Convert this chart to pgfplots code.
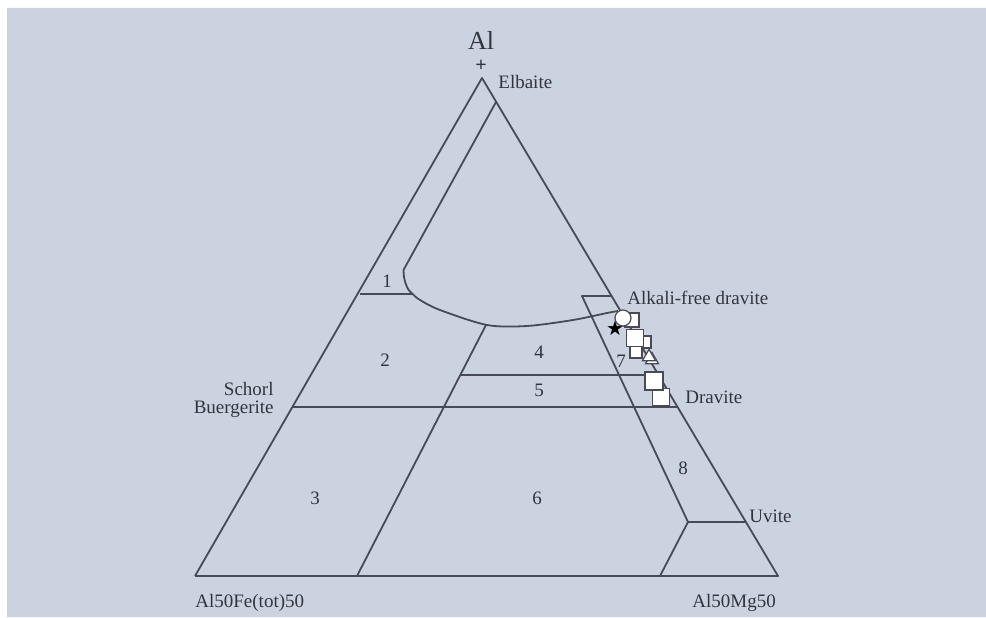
\documentclass[border=0pt]{standalone}
\usepackage{pgfplots}
\pgfplotsset{compat=1.18}
\usepackage{fontspec}
\setmainfont{Liberation Serif}
\newfontfamily\symfont{DejaVu Sans}
\definecolor{bg}{RGB}{203,211,224}
\definecolor{ink}{RGB}{72,74,86}
\definecolor{txt}{RGB}{50,52,62}

\begin{document}
\begin{tikzpicture}
\begin{axis}[
  width=493pt, height=308.5pt, scale only axis,
  xmin=0, xmax=986, ymin=0, ymax=617,
  axis lines=none, clip=false,
  bd/.style={draw=ink, solid, mark=none, line width=0.9pt},
  smp/.style={only marks, mark options={solid, fill=white, draw=ink, line width=0.6pt}},
]
% paper and background
\addplot[fill=white, draw=none, mark=none] coordinates {(0,0) (986,0) (986,617) (0,617) (0,0)};
\addplot[fill=bg, draw=none, mark=none] coordinates {(7,0) (986,0) (986,609) (7,609) (7,0)};

% outer triangle
\addplot[bd, line join=round] coordinates {(195,41) (778,41) (482,539) (195,41)};
% elbaite field boundary
\addplot[bd] coordinates {(496,515) (403.5,347)};
\addplot[bd, smooth] coordinates {(403.5,347) (404,340) (405.5,334) (408,328) (412,323.5) (420,317) (440,307) (487,292) (527,291) (573,297) (607,304) (618,306)};
% field 1
\addplot[bd] coordinates {(360,323) (411.7,323)};
% 4/5/6 against 2/3
\addplot[bd] coordinates {(486,292) (357,41)};
\addplot[bd] coordinates {(460,242) (659,242)};
\addplot[bd] coordinates {(293,210) (678,210)};
% alkali-free dravite box, 7/8 and uvite
\addplot[bd, line join=round] coordinates {(612,321) (582,321) (688,95) (746,95)};
\addplot[bd] coordinates {(688,95) (660,41)};

% samples
\addplot[smp, mark=square*, mark size=3.5pt] coordinates {(632,297)};
\addplot[smp, mark=*, mark size=4pt] coordinates {(623,299)};
\addplot[only marks, mark=text, text mark={\color{black}\symfont\fontsize{10}{10}\selectfont\char"2605}] coordinates {(615,289)};
\addplot[smp, mark=square*, mark size=3pt] coordinates {(645,275) (636,265)};
\addplot[smp, mark=square*, mark size=4.25pt] coordinates {(635,279)};
\addplot[smp, mark=triangle*, mark size=3.8pt] coordinates {(652,257) (649,260)};
\addplot[smp, mark=square*, mark size=4.25pt] coordinates {(661,220)};
\addplot[smp, mark=square*, mark size=4.5pt] coordinates {(654,236)};

% labels
\begin{scope}[every node/.style={text=txt, font=\fontsize{9.5}{11}\selectfont, inner sep=0pt}]
\node[anchor=base] at (axis cs:481,567) {\fontsize{13}{14}\selectfont Al};
\node at (axis cs:481,551) {\fontsize{10}{10}\selectfont\textbf{+}};
\node[anchor=west] at (axis cs:498,535) {Elbaite};
\node[anchor=west] at (axis cs:627,319) {Alkali-free dravite};
\node[anchor=west] at (axis cs:685,220) {Dravite};
\node[anchor=west] at (axis cs:749,101) {Uvite};
\node[anchor=east] at (axis cs:274,228) {Schorl};
\node[anchor=east] at (axis cs:274,208) {Buergerite};
\node[anchor=west] at (axis cs:195,14) {Al50Fe(tot)50};
\node[anchor=west] at (axis cs:692,14) {Al50Mg50};
\node at (axis cs:387,336) {1};
\node at (axis cs:385,257) {2};
\node at (axis cs:315,119) {3};
\node at (axis cs:539,265) {4};
\node at (axis cs:539,227) {5};
\node at (axis cs:537,119) {6};
\node at (axis cs:621,256) {7};
\node at (axis cs:683,149) {8};
\end{scope}
\end{axis}
\end{tikzpicture}
\end{document}
